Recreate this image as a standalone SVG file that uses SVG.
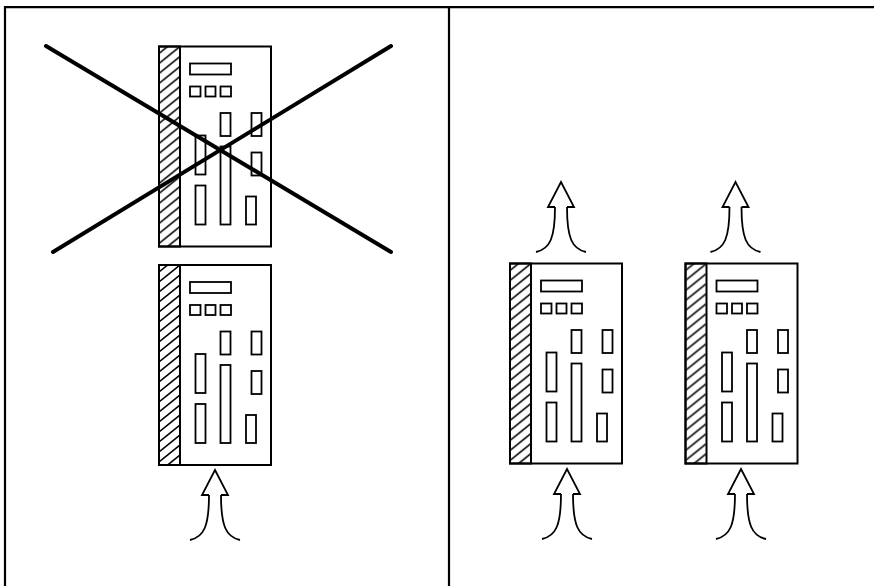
<svg xmlns="http://www.w3.org/2000/svg" width="874" height="586" viewBox="0 0 874 586">
  <style>
    .frame { stroke: #000; stroke-width: 2.2; fill: none; }
    .box { fill: #fff; stroke: #000; stroke-width: 2; }
    .part { fill: none; stroke: #000; stroke-width: 1.8; }
    .flow { fill: none; stroke: #000; stroke-width: 1.8; stroke-linejoin: miter; }
    .cross { stroke: #000; stroke-width: 4; stroke-linecap: round; }
  </style>
  <defs>
    <pattern id="hatch" patternUnits="userSpaceOnUse" x="0" y="0" width="21" height="10">
      <path d="M0,17 L21,0 M0,7 L21,-10" stroke="#000" stroke-width="1.6" fill="none"/>
    </pattern>
    <g id="device">
      <rect class="box" x="0" y="0" width="112" height="200"/>
      <rect x="0" y="0" width="21" height="200" fill="url(#hatch)" stroke="#000" stroke-width="2"/>
      <rect class="part" x="31" y="17" width="41" height="11"/>
      <rect class="part" x="31" y="40" width="10.5" height="10"/>
      <rect class="part" x="46.5" y="40" width="10" height="10"/>
      <rect class="part" x="61.5" y="40" width="10.5" height="10"/>
      <rect class="part" x="61.5" y="66.5" width="10" height="23"/>
      <rect class="part" x="92.5" y="66.5" width="10" height="23"/>
      <rect class="part" x="36.5" y="89" width="10" height="39"/>
      <rect class="part" x="61.5" y="100" width="10" height="78"/>
      <rect class="part" x="92.5" y="106" width="10" height="23"/>
      <rect class="part" x="36.5" y="139" width="10" height="39"/>
      <rect class="part" x="87" y="150" width="10" height="28"/>
    </g>
    <path id="airflow" class="flow" d="M-6,25 L-13,25 L0,0 L13,25 L6,25 M-6,25 C-6,56 -11,67 -25,70 M6,25 C6,56 11,67 25,70"/>
  </defs>

  <g id="frame">
    <line class="frame" x1="4" y1="7.2" x2="874" y2="7.2"/>
    <line class="frame" x1="5" y1="6" x2="5" y2="586"/>
    <line class="frame" x1="449" y1="6" x2="449" y2="586"/>
  </g>

  <g id="device-left-top" transform="translate(159,46.5)">
    <use href="#device"/>
  </g>
  <g id="device-left-bottom" transform="translate(159,265)">
    <use href="#device"/>
  </g>
  <g id="device-right-1" transform="translate(510,263.5)">
    <use href="#device"/>
  </g>
  <g id="device-right-2" transform="translate(685.5,263.5)">
    <use href="#device"/>
  </g>

  <g id="cross">
    <line class="cross" x1="46" y1="46" x2="391" y2="252"/>
    <line class="cross" x1="53" y1="252" x2="391" y2="46"/>
  </g>

  <g id="connectors">
    <use href="#airflow" transform="translate(215,470)"/>
    <use href="#airflow" transform="translate(567,469)"/>
    <use href="#airflow" transform="translate(741,469)"/>
    <use href="#airflow" transform="translate(561,182)"/>
    <use href="#airflow" transform="translate(735.5,182)"/>
  </g>
</svg>
